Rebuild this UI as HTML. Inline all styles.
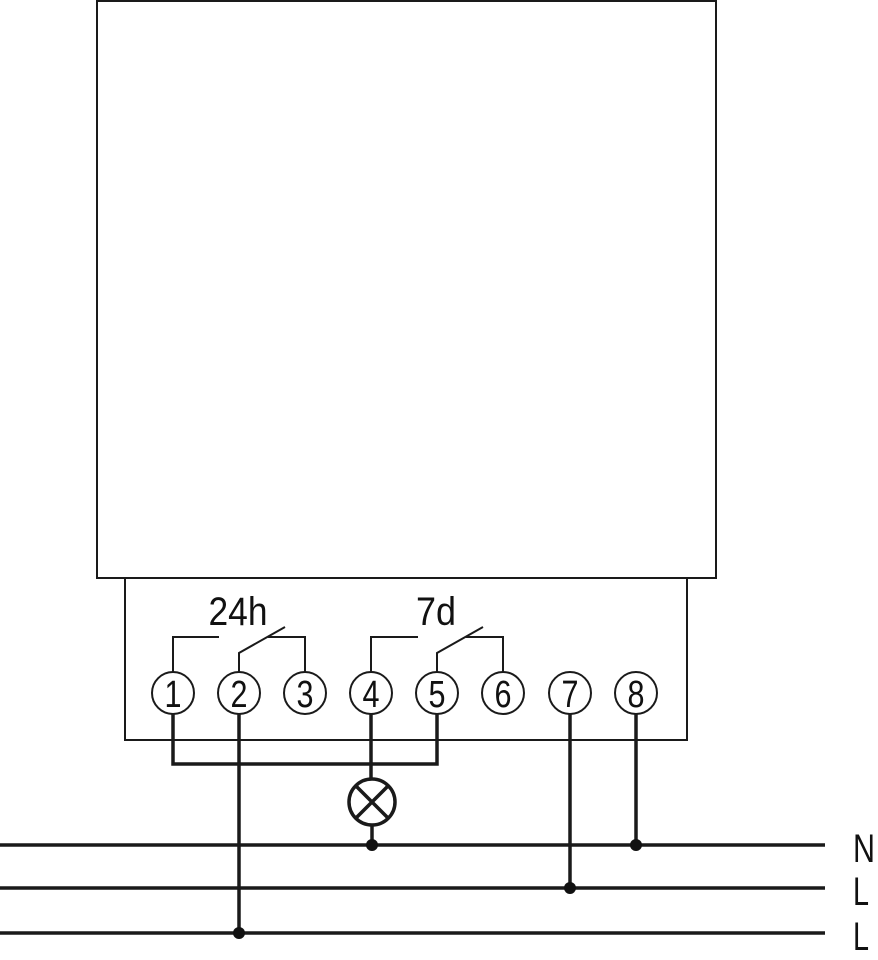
<!DOCTYPE html>
<html><head><meta charset="utf-8"><style>
html,body{margin:0;padding:0;background:#fff;}
svg{display:block;}
text{font-family:"Liberation Sans Narrow","Liberation Sans",sans-serif;fill:#111;}
</style></head><body>
<svg width="878" height="960" viewBox="0 0 878 960" xmlns="http://www.w3.org/2000/svg">
<g fill="none" stroke="#1a1a1a" stroke-width="2">
<rect x="97" y="1" width="619" height="577"/>
<rect x="125" y="578" width="562" height="162"/>
<polyline points="173,672 173,637 219,637"/>
<polyline points="239,672 239,653 285,627"/>
<polyline points="268,637 305,637 305,672"/>
<polyline points="371,672 371,637 418,637"/>
<polyline points="437,672 437,653 483,627"/>
<polyline points="466,637 503,637 503,672"/>
<circle cx="173" cy="693" r="21"/><circle cx="239" cy="693" r="21"/><circle cx="305" cy="693" r="21"/><circle cx="371" cy="693" r="21"/>
<circle cx="437" cy="693" r="21"/><circle cx="503" cy="693" r="21"/><circle cx="570" cy="693" r="21"/><circle cx="636" cy="693" r="21"/>
</g>
<g fill="none" stroke="#1a1a1a" stroke-width="3.5">
<polyline points="173,714 173,764 437,764 437,714"/>
<line x1="239" y1="714" x2="239" y2="933"/>
<line x1="371" y1="714" x2="371" y2="778"/>
<circle cx="372" cy="802" r="23"/>
<line x1="356" y1="786" x2="388" y2="818"/>
<line x1="388" y1="786" x2="356" y2="818"/>
<line x1="372" y1="825" x2="372" y2="845"/>
<line x1="570" y1="714" x2="570" y2="888"/>
<line x1="636" y1="714" x2="636" y2="845"/>
<line x1="0" y1="845" x2="825" y2="845"/>
<line x1="0" y1="888" x2="825" y2="888"/>
<line x1="0" y1="933" x2="825" y2="933"/>
</g>
<g fill="#111">
<circle cx="372" cy="845" r="6"/><circle cx="636" cy="845" r="6"/><circle cx="570" cy="888" r="6"/><circle cx="239" cy="933" r="6"/>
</g>
<text x="238" y="625" font-size="40" text-anchor="middle" textLength="59" lengthAdjust="spacingAndGlyphs">24h</text>
<text x="436" y="625" font-size="40" text-anchor="middle" textLength="40" lengthAdjust="spacingAndGlyphs">7d</text>
<g font-size="38" text-anchor="middle">
<text x="173" y="707" textLength="17" lengthAdjust="spacingAndGlyphs">1</text>
<text x="239" y="707" textLength="17" lengthAdjust="spacingAndGlyphs">2</text>
<text x="305" y="707" textLength="17" lengthAdjust="spacingAndGlyphs">3</text>
<text x="371" y="707" textLength="17" lengthAdjust="spacingAndGlyphs">4</text>
<text x="437" y="707" textLength="17" lengthAdjust="spacingAndGlyphs">5</text>
<text x="503" y="707" textLength="17" lengthAdjust="spacingAndGlyphs">6</text>
<text x="570" y="707" textLength="17" lengthAdjust="spacingAndGlyphs">7</text>
<text x="636" y="707" textLength="17" lengthAdjust="spacingAndGlyphs">8</text>
</g>
<g font-size="40">
<text x="853" y="862" textLength="22" lengthAdjust="spacingAndGlyphs">N</text>
<text x="853" y="905" textLength="16" lengthAdjust="spacingAndGlyphs">L</text>
<text x="853" y="950" textLength="16" lengthAdjust="spacingAndGlyphs">L</text>
</g>
</svg>
</body></html>
